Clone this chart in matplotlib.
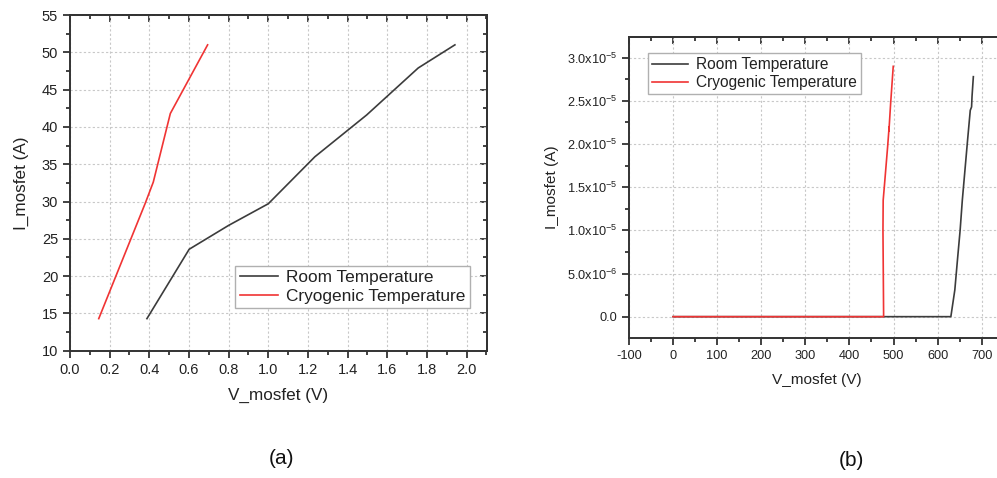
import matplotlib
matplotlib.use("Agg")
import matplotlib.pyplot as plt
from matplotlib.ticker import MultipleLocator, FixedLocator, FixedFormatter

plt.rcParams['font.family'] = ['Liberation Sans', 'DejaVu Sans']
plt.rcParams['mathtext.default'] = 'regular'
plt.rcParams['axes.unicode_minus'] = False

# (a) high-current forward characteristic
room_a_v = [0.388, 0.601, 0.80, 1.00, 1.235, 1.496, 1.756, 1.941]
room_a_i = [14.3, 23.6, 26.8, 29.7, 36.0, 41.6, 47.9, 51.0]
cryo_a_v = [0.145, 0.38, 0.42, 0.506, 0.694]
cryo_a_i = [14.3, 29.8, 32.6, 41.8, 51.0]

# (b) blocking-state leakage characteristic
room_b_v = [0, 477, 630, 639, 645, 651, 656, 662, 668, 674, 677, 678, 681]
room_b_i = [0, 0, 0, 0.31e-5, 0.66e-5, 1.0e-5, 1.35e-5, 1.70e-5, 2.05e-5,
            2.39e-5, 2.43e-5, 2.55e-5, 2.78e-5]
cryo_b_v = [0, 477.5, 476.0, 476.5, 479, 486.6, 490, 489.5, 493.4, 499.3]
cryo_b_i = [0, 0, 1.0e-5, 1.35e-5, 1.5e-5, 1.97e-5, 2.2e-5, 2.15e-5,
            2.47e-5, 2.9e-5]

b_yticks = [0, 0.5e-5, 1.0e-5, 1.5e-5, 2.0e-5, 2.5e-5, 3.0e-5]
b_yticklabels = ['0.0', '5.0x10$^{-6}$', '1.0x10$^{-5}$', '1.5x10$^{-5}$',
                 '2.0x10$^{-5}$', '2.5x10$^{-5}$', '3.0x10$^{-5}$']

room_color = '#3c3c3c'
cryo_color = '#f03434'
spine_color = '#333333'
text_color = '#222222'

fig = plt.figure(figsize=(9.97, 4.78), dpi=100)
ax1 = fig.add_axes([0.0702, 0.2663, 0.4183, 0.7023])
# panel (b) runs past the right edge of the canvas
ax2 = fig.add_axes([0.6309, 0.2929, 0.3980, 0.6303])
ax2_w = 0.3980 * 997


def style_axes(ax, label_size):
    for sp in ax.spines.values():
        sp.set_color(spine_color)
        sp.set_linewidth(1.4)
    ax.tick_params(which='both', direction='out', color=spine_color,
                   labelcolor=text_color, labelsize=label_size, width=1.3)
    ax.tick_params(which='major', length=5)
    ax.tick_params(which='minor', length=3)
    ax.grid(True, which='major', linestyle=(0, (2, 2)), color='#c8c8c8',
            linewidth=0.8)
    ax.set_axisbelow(True)
    # mirrored inward ticks on top and right
    for side, axis in (('top', 'x'), ('right', 'y')):
        sec = ax.secondary_xaxis('top') if axis == 'x' else ax.secondary_yaxis('right')
        sec.tick_params(which='both', direction='in', color=spine_color,
                        width=1.3, labelright=False, labeltop=False)
        sec.tick_params(which='major', length=5)
        sec.tick_params(which='minor', length=3)
        if axis == 'x':
            sec.xaxis.set_major_locator(ax.xaxis.get_major_locator())
            sec.xaxis.set_minor_locator(ax.xaxis.get_minor_locator())
            sec.set_xticklabels([])
        else:
            sec.yaxis.set_major_locator(ax.yaxis.get_major_locator())
            sec.yaxis.set_minor_locator(ax.yaxis.get_minor_locator())
            sec.set_yticklabels([])
        sec.spines[side].set_color(spine_color)
        sec.spines[side].set_linewidth(1.4)


# panel (a)
ax1.plot(room_a_v, room_a_i, color=room_color, lw=1.2, label='Room Temperature')
ax1.plot(cryo_a_v, cryo_a_i, color=cryo_color, lw=1.2, label='Cryogenic Temperature')
ax1.set_xlim(0, 2.103)
ax1.set_ylim(10, 55)
ax1.xaxis.set_major_locator(MultipleLocator(0.2))
ax1.xaxis.set_minor_locator(MultipleLocator(0.1))
ax1.yaxis.set_major_locator(MultipleLocator(5))
ax1.yaxis.set_minor_locator(MultipleLocator(2.5))
ax1.xaxis.set_major_formatter(plt.FuncFormatter(lambda v, p: f'{v:.1f}'))
style_axes(ax1, 10.5)
ax1.set_xlabel('V_mosfet (V)', fontsize=12.3, color=text_color, labelpad=8)
ax1.set_ylabel('I_mosfet (A)', fontsize=12.3, color=text_color, labelpad=9)
leg1 = ax1.legend(loc='lower right', bbox_to_anchor=(0.959, 0.127),
                  fontsize=12.4, frameon=True, fancybox=False, framealpha=1,
                  edgecolor='#b0b0b0', handlelength=2.2, handletextpad=0.5,
                  borderpad=0.25, labelspacing=0.2, borderaxespad=0)
leg1.get_frame().set_linewidth(1.0)
for t in leg1.get_texts():
    t.set_color(text_color)

# panel (b)
ax2.plot(room_b_v, room_b_i, color=room_color, lw=1.2, label='Room Temperature')
ax2.plot(cryo_b_v, cryo_b_i, color=cryo_color, lw=1.2, label='Cryogenic Temperature')
ax2.set_xlim(-100, 800)
ax2.set_ylim(-0.247e-5, 3.243e-5)
ax2.xaxis.set_major_locator(MultipleLocator(100))
ax2.xaxis.set_minor_locator(MultipleLocator(50))
ax2.yaxis.set_major_locator(FixedLocator(b_yticks))
ax2.yaxis.set_major_formatter(FixedFormatter(b_yticklabels))
ax2.yaxis.set_minor_locator(MultipleLocator(0.25e-5))
style_axes(ax2, 9.2)
ax2.set_xticks([-100, 0, 100, 200, 300, 400, 500, 600, 700])
ax2.set_xlabel('V_mosfet (V)', fontsize=11.1, color=text_color)
ax2.xaxis.set_label_coords((817 - 629) / ax2_w, -0.115)
ax2.set_ylabel('I_mosfet (A)', fontsize=11.1, color=text_color, labelpad=6)
leg2 = ax2.legend(loc='upper left', bbox_to_anchor=((648.3 - 629) / ax2_w, 0.945),
                  fontsize=11.2, frameon=True, fancybox=False, framealpha=1,
                  edgecolor='#b0b0b0', handlelength=2.3, handletextpad=0.5,
                  borderpad=0.25, labelspacing=0.2, borderaxespad=0)
leg2.get_frame().set_linewidth(1.0)
for t in leg2.get_texts():
    t.set_color(text_color)

fig.text(281 / 997, 1 - 458 / 478, '(a)', fontsize=15, ha='center', va='center',
         color='#111111')
fig.text(851 / 997, 1 - 460 / 478, '(b)', fontsize=15, ha='center', va='center',
         color='#111111')

fig.savefig('out.png', dpi=100)
